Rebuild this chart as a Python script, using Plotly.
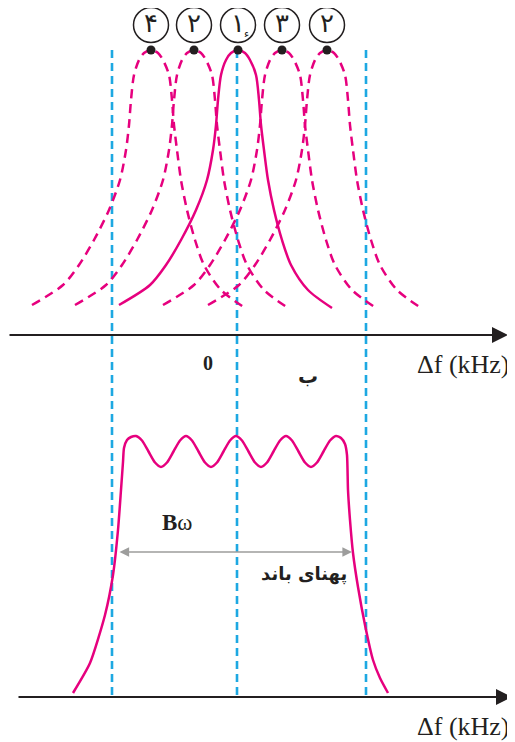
"""Overlapping tuned-circuit responses (top) and the resulting band-pass curve (bottom)."""

import plotly.graph_objects as go

PINK = "#E6007E"
BLUE = "#1DA8E2"
INK = "#231F20"
GREY = "#9D9D9C"

# --- data (diagram units, y grows downwards) ---------------------------------
peak_x = [151, 194, 238, 282, 327]
peak_y = 50
peak_labels = ["۴", "۲", "۱", "۳", "۲"]
solid_index = 2

# shared resonance profile, offsets from the peak
profile_dx = [-119, -88, -72, -57, -42, -31, -25, -22, -20, -17, -12, -7, 0,
              7, 12, 18, 21, 23, 26, 30, 36, 44, 53, 70, 94]
profile_dy = [255, 235, 215, 190, 160, 130, 100, 75, 50, 25, 10, 3, 0,
              3, 10, 25, 50, 75, 100, 130, 160, 190, 215, 240, 258]

# band-pass response (lower panel)
band_x = [73, 90, 105, 113, 118, 121, 123, 124, 127, 131, 136,
          142, 148.5, 155, 161, 167, 173.5, 180, 186,
          192, 198.5, 205, 211, 217, 223.5, 230, 236,
          242, 248.5, 255, 261, 267, 273.5, 280, 286,
          292, 298.5, 305, 311, 317, 323.5, 330, 336,
          341, 345, 347, 348, 350, 353, 358, 365, 373, 380, 388]
band_y = [693, 663, 615, 575, 530, 490, 462, 448, 440, 437, 436,
          440.5, 451.5, 462.5, 467, 462.5, 451.5, 440.5, 436,
          440.5, 451.5, 462.5, 467, 462.5, 451.5, 440.5, 436,
          440.5, 451.5, 462.5, 467, 462.5, 451.5, 440.5, 436,
          440.5, 451.5, 462.5, 467, 462.5, 451.5, 440.5, 436,
          438, 444, 455, 490, 520, 553, 587, 625, 660, 678, 693]

guide_x = [112, 237, 366]
guide_span = [50, 695]

top_axis = dict(start=8, end=508, y=335)
bottom_axis = dict(start=17, end=512, y=697)
band_width = dict(start=118, end=352, y=552)

# the page body adds an 8px margin, so the plot starts at diagram unit 8
ORIGIN = 8

fig = go.Figure()

# dashed guide lines
for gx in guide_x:
    fig.add_trace(go.Scatter(
        x=[gx, gx], y=guide_span, mode="lines",
        line=dict(color=BLUE, width=2.6, dash="8px,5px"), hoverinfo="skip",
    ))

# individual responses
for i, px in enumerate(peak_x):
    fig.add_trace(go.Scatter(
        x=[px + d for d in profile_dx], y=[peak_y + d for d in profile_dy],
        mode="lines", line_shape="spline",
        line=dict(color=PINK, width=2.5, dash="solid" if i == solid_index else "9px,6px", smoothing=0.8),
        hoverinfo="skip",
    ))

fig.add_trace(go.Scatter(
    x=band_x, y=band_y, mode="lines", line_shape="spline",
    line=dict(color=PINK, width=2.5, smoothing=0.6), hoverinfo="skip",
))

# peak dots and numbered circles
fig.add_trace(go.Scatter(
    x=peak_x, y=[peak_y] * len(peak_x), mode="markers",
    marker=dict(color=INK, size=9), hoverinfo="skip",
))
fig.add_trace(go.Scatter(
    x=peak_x, y=[25] * len(peak_x), mode="markers+text", text=peak_labels,
    textposition="middle center",
    textfont=dict(family="DejaVu Sans", size=26, color=INK),
    marker=dict(color="white", size=35, line=dict(color=INK, width=1.5)),
    hoverinfo="skip",
))
# small hamza mark beside the first label
fig.add_annotation(
    x=peak_x[solid_index] + 8, y=33, xref="x", yref="y", text="ء", showarrow=False,
    font=dict(family="DejaVu Sans", size=11, color=INK),
)

# axes as arrows
for ax_ in (top_axis, bottom_axis):
    fig.add_annotation(
        x=ax_["end"], y=ax_["y"], ax=ax_["start"], ay=ax_["y"], axref="x", ayref="y",
        xref="x", yref="y", text="", showarrow=True,
        arrowhead=2, arrowsize=1.6, arrowwidth=2, arrowcolor=INK, standoff=0,
    )
    fig.add_annotation(
        x=512, y=ax_["y"] + 29, xref="x", yref="y", xanchor="right", yanchor="middle",
        text="Δf (kHz)", showarrow=False,
        font=dict(family="Liberation Serif", size=26, color=INK),
    )

fig.add_annotation(
    x=band_width["end"], y=band_width["y"], ax=band_width["start"], ay=band_width["y"],
    axref="x", ayref="y", xref="x", yref="y", text="", showarrow=True,
    arrowside="end+start", arrowhead=2, arrowsize=1.2, arrowwidth=1.6,
    arrowcolor=GREY, standoff=0, startstandoff=0,
)

texts = [
    dict(x=208, y=363, text="<b>0</b>", family="Liberation Serif", size=20),
    dict(x=308, y=376, text="<b>ب</b>", family="DejaVu Sans", size=20),
    dict(x=177, y=522, text="<b>B</b>ω", family="Liberation Serif", size=23),
    dict(x=304, y=574, text="<b>پهنای باند</b>", family="DejaVu Sans", size=18),
]
for t in texts:
    fig.add_annotation(
        x=t["x"], y=t["y"], xref="x", yref="y", text=t["text"], showarrow=False,
        font=dict(family=t["family"], size=t["size"], color=INK),
    )

fig.update_layout(
    width=515 - ORIGIN, height=742 - ORIGIN, margin=dict(l=0, r=0, t=0, b=0),
    plot_bgcolor="white", paper_bgcolor="white", showlegend=False,
    xaxis=dict(range=[ORIGIN, 515], visible=False, fixedrange=True),
    yaxis=dict(range=[742, ORIGIN], visible=False, fixedrange=True),
)

fig.write_html("out.html")
